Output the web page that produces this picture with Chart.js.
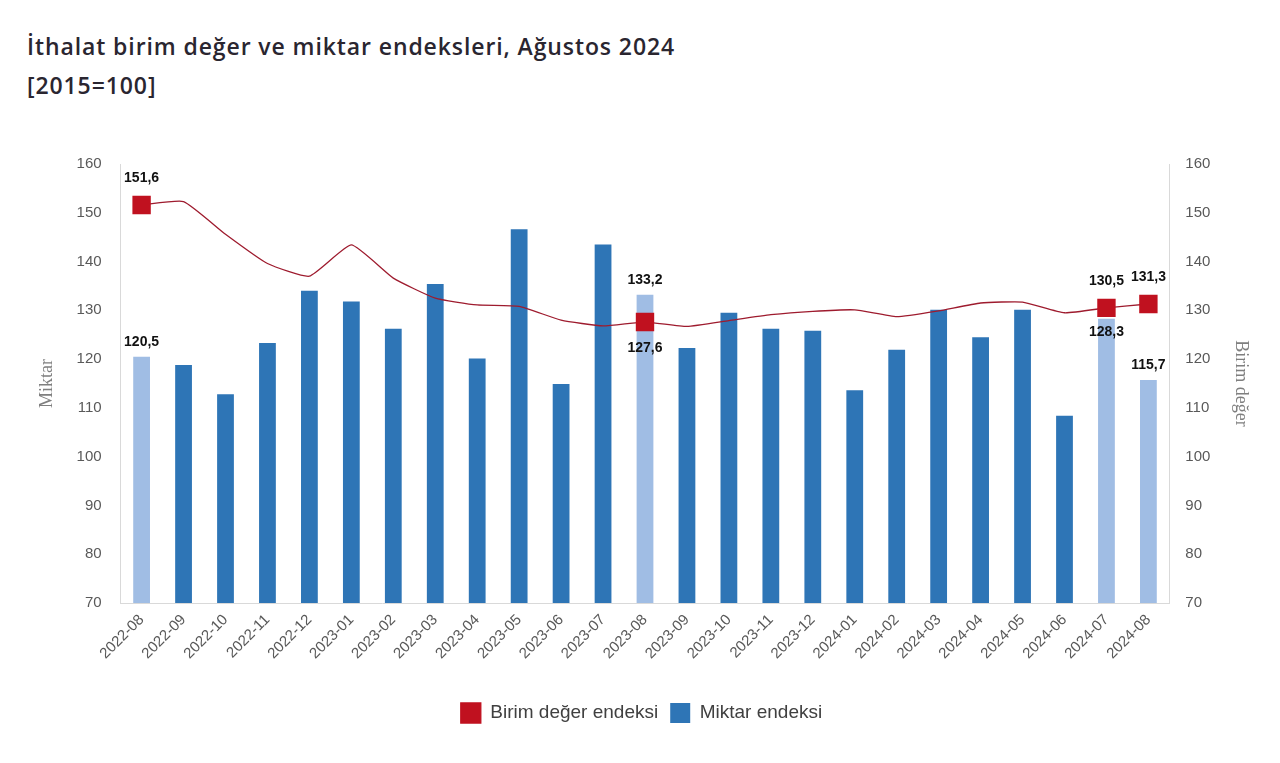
<!DOCTYPE html>
<html>
<head>
<meta charset="utf-8">
<script src="https://cdn.jsdelivr.net/npm/chart.js@4.4.1/dist/chart.umd.min.js"></script>
<style>
  html, body { margin: 0; padding: 0; background: #fff; }
  #wrap { position: relative; width: 1280px; height: 763px; }
  #title {
    position: absolute; left: 27px; top: 27px;
    font-family: 'Open Sans', sans-serif; font-weight: 600; font-size: 23px;
    color: #2a2630; line-height: 39px; letter-spacing: 0.9px;
  }
  canvas { position: absolute; left: 0; top: 0; }
</style>
</head>
<body>
<div id="wrap">
  <div id="title">İthalat birim değer ve miktar endeksleri, Ağustos 2024<br>[2015=100]</div>
  <canvas id="chart" width="1280" height="763"></canvas>
</div>
<script>
  // Months on the x axis
  const months = ['2022-08', '2022-09', '2022-10', '2022-11', '2022-12', '2023-01', '2023-02', '2023-03',
    '2023-04', '2023-05', '2023-06', '2023-07', '2023-08', '2023-09', '2023-10', '2023-11', '2023-12',
    '2024-01', '2024-02', '2024-03', '2024-04', '2024-05', '2024-06', '2024-07', '2024-08'];

  // Miktar endeksi (bars, left axis)
  const miktar = [120.5, 118.8, 112.8, 123.3, 134.0, 131.8, 126.2, 135.4,
    120.1, 146.6, 114.9, 143.5, 133.2, 122.3, 129.5, 126.2, 125.8,
    113.6, 121.9, 130.1, 124.5, 130.1, 108.4, 128.3, 115.7];

  // Birim değer endeksi (line, right axis)
  const birimDeger = [151.6, 152.3, 145.6, 139.6, 137.0, 143.4, 136.6, 132.5,
    131.1, 130.8, 128.0, 126.8, 127.6, 126.7, 127.9, 129.1, 129.8,
    130.1, 128.7, 129.9, 131.5, 131.7, 129.5, 130.5, 131.3];

  // highlighted months (same month of each year + latest)
  const highlight = [0, 12, 23, 24];

  const yTicks = [70, 80, 90, 100, 110, 120, 130, 140, 150, 160];

  const blue = '#2e75b6';
  const lightBlue = '#a0bde4';
  const red = '#c0111f';

  const fmt = v => v.toFixed(1).replace('.', ',');

  // draws the value labels for the highlighted months
  const valueLabels = {
    id: 'valueLabels',
    afterDatasetsDraw(chart) {
      const ctx = chart.ctx;
      const lineMeta = chart.getDatasetMeta(0);
      const barMeta = chart.getDatasetMeta(1);
      ctx.save();
      ctx.font = 'bold 14px "Liberation Sans", Arial, sans-serif';
      ctx.fillStyle = '#111';
      ctx.textAlign = 'center';
      ctx.textBaseline = 'middle';
      highlight.forEach(i => {
        const bar = barMeta.data[i];
        const pt = lineMeta.data[i];
        // bar label: above the bar, except where the marker sits on it
        const barDy = i === 23 ? 14 : -15;
        ctx.fillText(fmt(miktar[i]), bar.x, bar.y + barDy);
        // line label: above the marker, except 2023-08
        const ptDy = i === 12 ? 26 : -27;
        ctx.fillText(fmt(birimDeger[i]), pt.x, pt.y + ptDy);
      });
      ctx.restore();
    }
  };

  const tickFont = { family: '"Liberation Sans", Arial, sans-serif', size: 15 };
  const titleFont = { family: '"Liberation Serif", "Times New Roman", serif', size: 18 };

  const ctx = document.getElementById('chart').getContext('2d');
  const chart = new Chart(ctx, {
    data: {
      labels: months,
      datasets: [{
        type: 'line',
        label: 'Birim değer endeksi',
        data: birimDeger,
        yAxisID: 'y1',
        borderColor: '#9e1b2e',
        backgroundColor: red,
        borderWidth: 1.3,
        tension: 0.15,
        pointStyle: 'rect',
        pointRadius: months.map((m, i) => highlight.includes(i) ? 13 : 0),
        pointBackgroundColor: red,
        pointBorderColor: red,
        pointBorderWidth: 0,
        order: 1
      }, {
        type: 'bar',
        label: 'Miktar endeksi',
        data: miktar,
        yAxisID: 'y',
        backgroundColor: months.map((m, i) => highlight.includes(i) ? lightBlue : blue),
        barPercentage: 0.4,
        categoryPercentage: 1,
        order: 2
      }]
    },
    options: {
      responsive: false,
      animation: false,
      layout: { padding: { top: 164, left: 27, right: 24, bottom: 30 } },
      scales: {
        x: {
          grid: { display: false, drawTicks: false },
          border: { color: '#d9d9d9' },
          ticks: { color: '#595959', font: tickFont, minRotation: 45, maxRotation: 45, padding: 8 },
          afterFit: axis => { axis.height = 88; }
        },
        y: {
          position: 'left',
          min: 70, max: 160,
          afterBuildTicks: axis => { axis.ticks = yTicks.map(v => ({ value: v })); },
          grid: { display: false, drawTicks: false },
          border: { color: '#d9d9d9' },
          ticks: { color: '#595959', font: tickFont, padding: 19 },
          title: { display: true, text: 'Miktar', color: '#7f7f7f', font: titleFont, padding: { top: 9, bottom: 0 } }
        },
        y1: {
          position: 'right',
          min: 70, max: 160,
          afterBuildTicks: axis => { axis.ticks = yTicks.map(v => ({ value: v })); },
          grid: { display: false, drawTicks: false },
          border: { color: '#d9d9d9' },
          ticks: { color: '#595959', font: tickFont, padding: 16 },
          title: { display: true, text: 'Birim değer', color: '#7f7f7f', font: titleFont, padding: 4 }
        }
      },
      plugins: {
        legend: {
          position: 'bottom',
          labels: {
            boxWidth: 20, boxHeight: 20, padding: 12,
            color: '#404040',
            font: { family: '"Liberation Sans", Arial, sans-serif', size: 19 },
            generateLabels: chart => {
              const items = Chart.defaults.plugins.legend.labels.generateLabels(chart);
              items[0].fillStyle = red;
              items[0].strokeStyle = red;
              items[1].fillStyle = blue;
              items[1].strokeStyle = blue;
              return items;
            }
          }
        },
        tooltip: { enabled: false }
      }
    },
    plugins: [valueLabels]
  });
</script>
</body>
</html>
